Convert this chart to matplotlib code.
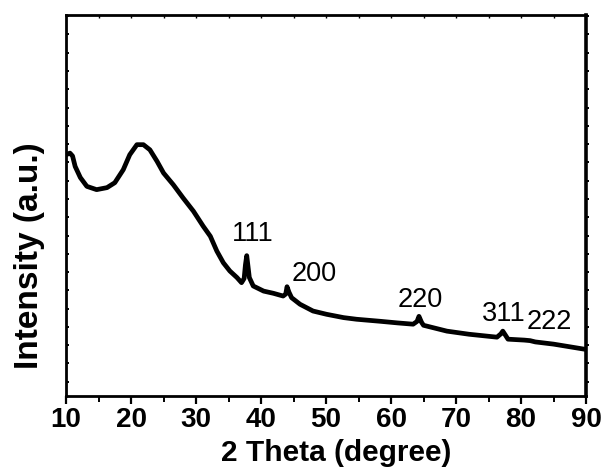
import matplotlib
matplotlib.use("Agg")
import matplotlib.pyplot as plt
from matplotlib.ticker import MultipleLocator

# 2-theta positions (degree) and intensities (a.u.)
two_theta = [10.0, 10.6, 11.0, 11.4, 12.2, 13.2, 14.7, 16.3, 17.5, 18.8, 19.8,
             20.9, 21.9, 22.9, 24.0, 25.0, 26.5, 28.0, 29.6, 31.1, 32.2, 33.2,
             34.2, 35.2, 36.3, 37.0, 37.4, 37.6, 37.8, 38.0, 38.2, 38.8, 40.4,
             41.9, 43.4, 43.8, 44.0, 44.3, 44.7, 46.0, 48.0, 50.1, 52.7, 54.7,
             58.3, 61.0, 63.4, 64.0, 64.3, 64.7, 65.0, 68.6, 72.0, 76.3, 76.9,
             77.2, 77.6, 78.0, 80.5, 81.4, 82.2, 85.0, 89.8, 90.0]
intensity = [1242, 1251, 1235, 1178, 1117, 1069, 1051, 1062, 1089, 1160, 1242,
             1297, 1297, 1269, 1206, 1142, 1078, 1006, 933, 851, 796, 715,
             651, 606, 570, 542, 565, 640, 690, 630, 570, 524, 496,
             484, 469, 480, 520, 490, 460, 424, 387, 369, 351, 342,
             331, 322, 315, 330, 358, 325, 309, 277, 260, 244, 262,
             277, 255, 233, 228, 225, 218, 206, 178, 178]

peak_labels = ["111", "200", "220", "311", "222"]
label_theta = [38.77, 48.15, 64.46, 77.38, 84.3]
label_base = [768, 549, 408, 331, 287]

x_ticks = [10, 20, 30, 40, 50, 60, 70, 80, 90]

plt.rcParams['font.family'] = ['Liberation Sans', 'DejaVu Sans']

fig = plt.figure(figsize=(6.06, 4.76), dpi=100)
ax = fig.add_axes([0.109, 0.168, 0.858, 0.8015])

ax.plot(two_theta, intensity, color='black', lw=3.4, solid_joinstyle='round')

for lab, t, b in zip(peak_labels, label_theta, label_base):
    ax.text(t, b, lab, fontsize=19.5, ha='center', va='baseline')

ax.set_xlim(10, 90)
ax.set_ylim(-78, 2009)
ax.set_xticks(x_ticks)
ax.xaxis.set_minor_locator(MultipleLocator(5))
ax.yaxis.set_major_locator(MultipleLocator(100))
ax.set_yticklabels([])
ax.tick_params(axis='x', which='major', direction='out', length=6, width=1.6,
               labelsize=20, pad=2)
ax.tick_params(axis='x', which='minor', direction='out', length=4, width=1.4)
ax.tick_params(axis='y', which='major', direction='in', length=2.5, width=1.4,
               left=True, right=False)
for lab in ax.get_xticklabels():
    lab.set_fontweight('bold')

# top and right decorative ticks
top = ax.secondary_xaxis('top')
top.set_xticks([15, 20, 25, 30, 35, 40, 45, 50, 55, 60, 65, 70, 75, 80, 85])
top.tick_params(direction='in', length=2, width=1.0, labeltop=False)
top.spines['top'].set_visible(False)
right = ax.secondary_yaxis('right')
right.yaxis.set_major_locator(MultipleLocator(100))
right.tick_params(direction='out', length=2.5, width=1.4, labelright=False)
right.spines['right'].set_visible(False)

for s in ax.spines.values():
    s.set_linewidth(2.0)
ax.spines['right'].set_linewidth(2.6)

ax.set_xlabel('2 Theta (degree)', fontsize=21.5, fontweight='bold')
ax.xaxis.set_label_coords(0.519, -0.112)
ax.set_ylabel('Intensity (a.u.)', fontsize=24, fontweight='bold')
ax.yaxis.set_label_coords(-0.04, 0.367)

fig.savefig('out.png', dpi=100)
